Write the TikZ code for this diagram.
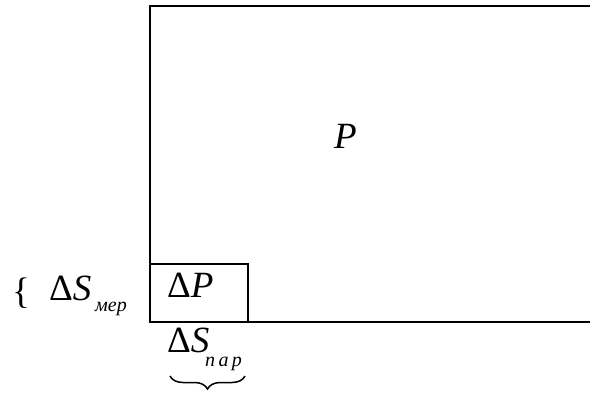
\documentclass[tikz,border=0pt]{standalone}
\usepackage{fontspec}
\setmainfont{Liberation Serif}
\usetikzlibrary{decorations.pathreplacing}

\begin{document}
\begin{tikzpicture}[x=1pt,y=-1pt,
  lbl/.style={anchor=base west,inner sep=0pt,font=\fontsize{37}{39}\selectfont},
  sub/.style={anchor=base west,inner sep=0pt,font=\fontsize{20}{22}\selectfont\itshape}]
  \useasboundingbox (0,0) rectangle (590,392);
  % area P and element dP
  \draw[line width=2.8pt] (590,6) -- (150,6) -- (150,322) -- (590,322);
  \draw[line width=2.8pt] (150,264) rectangle (248,322);
  \node[lbl] (p) at (334,148) {\textit{P}};
  \node[lbl] (dp) at (167,297) {Δ\textit{P}};
  % sides of the element
  \node[lbl] (br) at (12,303) {\{};
  \node[lbl] (dsm) at (49,300) {Δ\textit{S}};
  \node[sub] (mer) at (95,311) {мер};
  \node[lbl] (dsn) at (167,352) {Δ\textit{S}};
  \node[sub] (nar) at (205,366) {п\,а\,р};
  \draw[line width=1.5pt,decorate,decoration={brace,mirror,amplitude=13pt}] (170,376) -- (245,376);
\end{tikzpicture}
\end{document}
